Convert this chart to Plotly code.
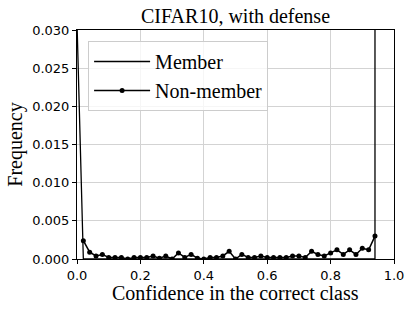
import plotly.graph_objects as go

# Non-member confidence histogram (bin positions and frequencies)
nonmember_conf = [0.02, 0.04, 0.06, 0.08, 0.10, 0.12, 0.14, 0.16, 0.18, 0.20,
                  0.22, 0.24, 0.26, 0.28, 0.30, 0.32, 0.34, 0.36, 0.38, 0.40,
                  0.42, 0.44, 0.46, 0.48, 0.50, 0.52, 0.54, 0.56, 0.58, 0.60,
                  0.62, 0.64, 0.66, 0.68, 0.70, 0.72, 0.74, 0.76, 0.78, 0.80,
                  0.82, 0.84, 0.86, 0.88, 0.90, 0.92, 0.94]
nonmember_freq = [0.0024, 0.0009, 0.0004, 0.0006, 0.0002, 0.0002, 0.0002, 0.0000, 0.0002, 0.0002,
                  0.0002, 0.0004, 0.0001, 0.0004, 0.0000, 0.0008, 0.0002, 0.0006, 0.0001, 0.0000,
                  0.0002, 0.0002, 0.0004, 0.0010, 0.0000, 0.0006, 0.0002, 0.0002, 0.0004, 0.0002,
                  0.0002, 0.0002, 0.0002, 0.0004, 0.0004, 0.0002, 0.0010, 0.0006, 0.0004, 0.0008,
                  0.0012, 0.0006, 0.0012, 0.0006, 0.0014, 0.0012, 0.0030]

# Member confidence curve
member_conf = [0.00, 0.02, 0.94, 0.94]
member_freq = [0.031, 0.0, 0.0, 0.95]

x_ticks = [0.0, 0.2, 0.4, 0.6, 0.8, 1.0]
x_tick_labels = ["0.0", "0.2", "0.4", "0.6", "0.8", "1.0"]
y_ticks = [0.000, 0.005, 0.010, 0.015, 0.020, 0.025, 0.030]
y_tick_labels = ["0.000", "0.005", "0.010", "0.015", "0.020", "0.025", "0.030"]

serif = "Liberation Serif"
sans = "DejaVu Sans"

fig = go.Figure()
fig.add_trace(go.Scatter(x=member_conf, y=member_freq, mode="lines", name="Member",
                         line=dict(color="black", width=1.3)))
fig.add_trace(go.Scatter(x=nonmember_conf, y=nonmember_freq, mode="lines+markers",
                         name="Non-member",
                         line=dict(color="black", width=1.5),
                         marker=dict(color="black", size=5)))

fig.update_layout(
    width=415, height=311,
    margin=dict(l=77, r=21, t=30, b=52),
    paper_bgcolor="white", plot_bgcolor="white",
    title=dict(text="CIFAR10, with defense", x=0.5, xref="paper", xanchor="center",
               y=1, yref="paper", yanchor="bottom", pad=dict(b=7),
               font=dict(family=serif, size=20, color="black")),
    showlegend=True,
    legend=dict(x=0.035, y=0.952, xanchor="left", yanchor="top",
                bgcolor="rgba(255,255,255,0.8)", bordercolor="#cccccc", borderwidth=1,
                font=dict(family=serif, size=20, color="black"),
                itemwidth=56, tracegroupgap=0),
    annotations=[dict(text="Confidence in the correct class", xref="paper", yref="paper",
                      x=0.5, y=0, xanchor="center", yanchor="top", yshift=-21,
                      showarrow=False, font=dict(family=serif, size=20, color="black"))],
)
fig.update_xaxes(range=[0, 1], tickvals=x_ticks, ticktext=x_tick_labels,
                 showline=True, linecolor="black", linewidth=1, mirror=True,
                 ticks="outside", ticklen=4, tickcolor="black",
                 showgrid=True, gridcolor="#d3d3d3", gridwidth=1, zeroline=False,
                 tickfont=dict(family=sans, size=13, color="black"))
fig.update_yaxes(range=[0, 0.030], tickvals=y_ticks, ticktext=y_tick_labels,
                 showline=True, linecolor="black", linewidth=1, mirror=True,
                 ticks="outside", ticklen=4, tickcolor="black",
                 showgrid=True, gridcolor="#d3d3d3", gridwidth=1, zeroline=False,
                 tickfont=dict(family=sans, size=13, color="black"),
                 title=dict(text="Frequency", standoff=4,
                            font=dict(family=serif, size=20, color="black")))

# remove the default page margin so the figure sits at the window origin
fig.write_html("out.html", config={"displayModeBar": False},
               post_script="document.body.style.margin='0';")
